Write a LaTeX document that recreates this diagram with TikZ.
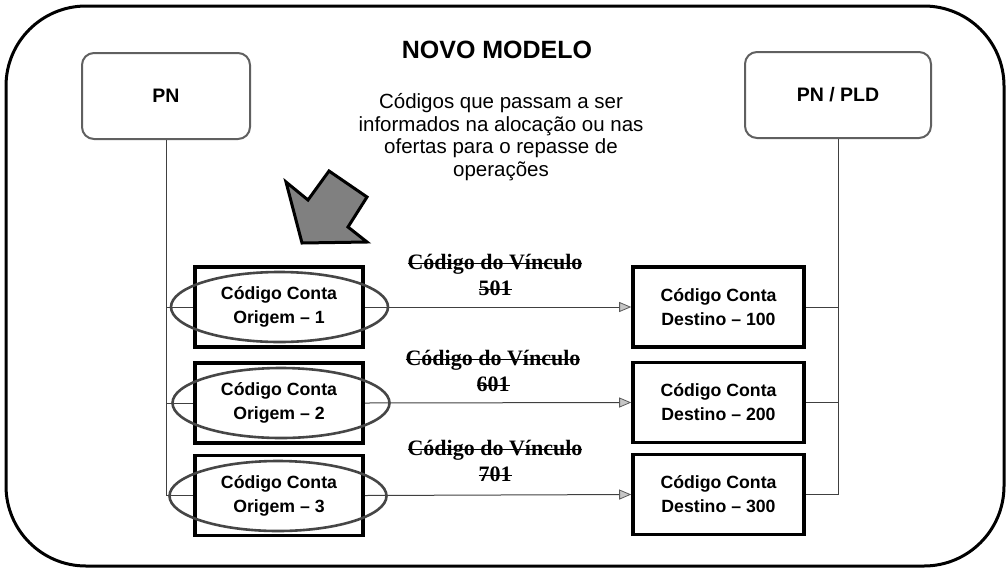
\documentclass[tikz,border=0pt]{standalone}
\usepackage{fontspec}
\setmainfont{Liberation Sans}
\newfontfamily\tnr{Liberation Serif}
\newsavebox\stkbox
\newcommand\strk[1]{\sbox\stkbox{#1}\rlap{\usebox\stkbox}\rule[0.24em]{\wd\stkbox}{1.6pt}}
\usetikzlibrary{arrows.meta,shapes.geometric}
\begin{document}
\begin{tikzpicture}[x=1pt,y=-1pt,
  topbox/.style={draw=gray!75!black, line width=2pt, rounded corners=12pt, minimum height=86pt,
    font=\bfseries\fontsize{19.5}{23}\selectfont},
  codebox/.style={draw=black, line width=3.6pt, minimum width=168pt, minimum height=80pt, align=center,
    font=\bfseries\fontsize{17.7}{24}\selectfont},
  destbox/.style={codebox, minimum width=171pt},
  oval/.style={draw=gray!55!black, ellipse, line width=2.6pt, minimum width=217pt, minimum height=70pt, inner sep=0pt},
  conn/.style={draw=black!75, line width=1pt},
  arr/.style={conn, -{Triangle[length=12pt,width=10pt,fill=gray!45,color=gray!70!black,line width=0.8pt]}},
  vlabel/.style={align=center, font=\tnr\bfseries\fontsize{22}{26}\selectfont, inner sep=0pt},
]
\useasboundingbox (0,0) rectangle (1008,568);
\draw[line width=3pt, rounded corners=80pt] (6,6) rectangle (1004,566);

\node[font=\bfseries\fontsize{25}{30}\selectfont] (title) at (497,50) {NOVO MODELO};
\node[align=center, font=\fontsize{20.5}{22.5}\selectfont] (sub) at (501,137)
  {Códigos que passam a ser\\informados na alocação ou nas\\ofertas para o repasse de\\operações};

\node[topbox, minimum width=168pt] (pn) at (166,96) {PN};
\node[topbox, minimum width=186pt] (pld) at (838,95) {PN / PLD};

\node[codebox] (o1) at (279,307) {Código Conta\\Origem – 1};
\node[codebox] (o2) at (279,403) {Código Conta\\Origem – 2};
\node[codebox] (o3) at (279,495.5) {Código Conta\\Origem – 3};

\node[destbox] (d1) at (718.5,307) {Código Conta\\Destino – 100};
\node[destbox] (d2) at (718.5,402.5) {Código Conta\\Destino – 200};
\node[destbox] (d3) at (718.5,494.5) {Código Conta\\Destino – 300};

% left trunk
\draw[conn] (pn.south) -- (pn.south |- o3.west) -- (o3.west);
\draw[conn] (pn.south |- o1.west) -- (o1.west);
\draw[conn] (pn.south |- o2.west) -- (o2.west);
% right trunk
\draw[conn] (pld.south) -- (pld.south |- d3.east) -- (d3.east);
\draw[conn] (pld.south |- d1.east) -- (d1.east);
\draw[conn] (pld.south |- d2.east) -- (d2.east);

% arrows
\draw[arr] (o1.east) -- (d1.west);
\draw[arr] (o2.east) -- (d2.west);
\draw[arr] (o3.east) -- (d3.west);

% ovals
\node[oval] (e1) at (279.5,307) {};
\node[oval] (e2) at (281,403) {};
\node[oval] (e3) at (278,496) {};

% labels
\node[vlabel] (v1) at (495,275) {\strk{Código do Vínculo}\\\strk{501}};
\node[vlabel] (v2) at (493,371) {\strk{Código do Vínculo}\\\strk{601}};
\node[vlabel] (v3) at (495,461) {\strk{Código do Vínculo}\\\strk{701}};

% big block arrow
\draw[fill=black!50, line width=3pt, line join=miter] (302,243) -- (286,182) -- (308,200) -- (329,171)
  -- (367,197) -- (348,227) -- (367,242) -- cycle;
\end{tikzpicture}
\end{document}
